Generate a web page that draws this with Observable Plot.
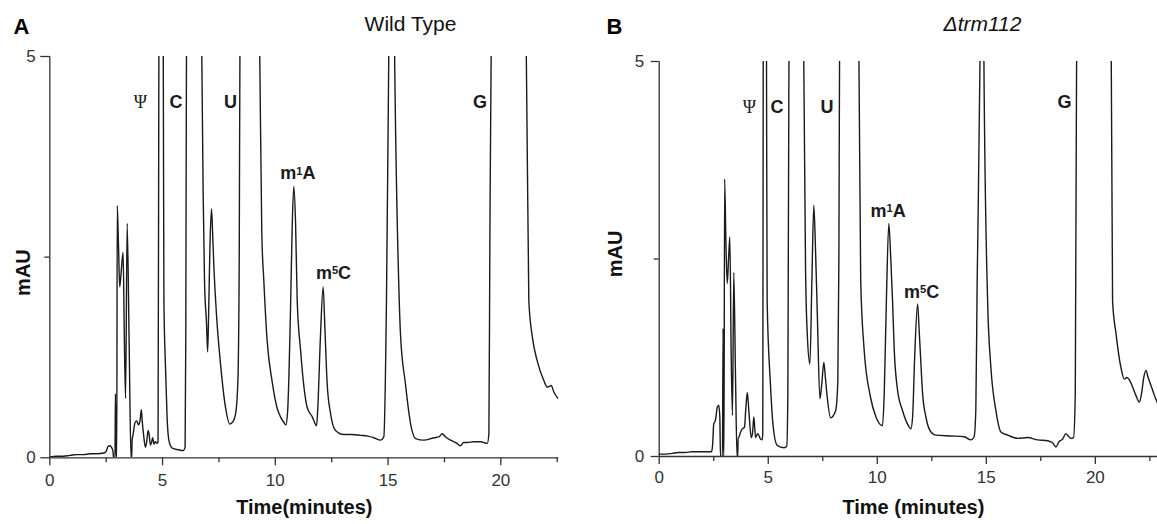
<!DOCTYPE html>
<html>
<head>
<meta charset="utf-8">
<script src="https://cdn.jsdelivr.net/npm/d3@7"></script>
<script src="https://cdn.jsdelivr.net/npm/@observablehq/plot@0.6"></script>
<style>
  html, body { margin: 0; padding: 0; background: #fff; }
  #chart { position: relative; width: 1157px; height: 524px; overflow: hidden; }
  #chart svg { position: absolute; top: 0; }
</style>
</head>
<body>
<div id="chart"></div>
<script>
// ---- Data ----
const wildTypeTime = [0.00,0.3,0.6,0.9,1.2,1.5,1.8,2.1,2.4,2.5,2.58,2.66,2.74,2.8,2.83,2.89,2.91,2.94,2.97,2.99,3.05,3.10,3.16,3.25,3.30,3.36,3.43,3.52,3.60,3.63,3.65,3.70,3.78,3.86,3.93,4.00,4.06,4.10,4.15,4.24,4.30,4.36,4.40,4.46,4.52,4.56,4.62,4.68,4.76,4.80,4.84,4.93,5.03,5.06,5.13,5.20,5.28,5.43,5.70,5.91,6.00,6.03,6.06,6.40,6.74,6.80,6.86,6.95,7.00,7.05,7.10,7.17,7.22,7.27,7.39,7.57,7.79,7.98,8.12,8.24,8.34,8.40,8.43,8.87,9.31,9.40,9.49,9.64,9.86,10.08,10.23,10.38,10.47,10.55,10.67,10.75,10.82,10.90,10.97,11.12,11.27,11.41,11.64,11.83,11.88,12.00,12.12,12.20,12.30,12.45,12.67,13.04,13.40,13.78,14.10,14.37,14.67,14.81,14.93,15.03,15.16,15.29,15.48,15.55,15.77,16.00,16.22,16.59,17.03,17.25,17.40,17.55,17.77,18.00,18.21,18.35,18.51,18.80,19.10,19.40,19.47,19.51,19.57,20.35,21.13,21.24,21.40,21.61,21.91,22.06,22.15,22.23,22.35,22.53];
const wildTypeAbs  = [0.01,0.02,0.02,0.03,0.04,0.04,0.05,0.05,0.06,0.08,0.14,0.15,0.13,0.08,0.00,0.00,0.80,0.00,0.00,3.14,2.60,2.13,2.30,2.56,1.60,0.74,2.92,1.40,0.00,0.00,0.22,0.30,0.44,0.46,0.41,0.46,0.60,0.45,0.31,0.13,0.21,0.34,0.30,0.16,0.20,0.25,0.17,0.20,0.18,0.20,5.5,9,5.2,1.96,1.13,0.51,0.22,0.12,0.10,0.09,0.13,1.5,5.0,9,5.0,3.3,2.21,1.67,1.32,1.9,2.62,3.10,2.8,2.42,1.79,1.17,0.63,0.42,0.45,0.55,0.96,2.5,5.0,9,5.0,2.8,2.21,1.45,0.95,0.62,0.51,0.44,0.41,0.6,1.8,2.9,3.38,2.9,1.96,1.34,0.88,0.63,0.51,0.40,0.6,1.5,2.13,1.6,0.92,0.55,0.34,0.29,0.29,0.28,0.27,0.25,0.22,0.26,2.0,5.0,9,5.0,2.1,1.54,0.92,0.42,0.24,0.22,0.25,0.26,0.30,0.26,0.22,0.19,0.15,0.19,0.19,0.20,0.20,0.18,0.3,2.5,5.0,9,5.0,1.96,1.5,1.21,0.96,0.88,0.89,0.90,0.82,0.74];

const trm112Time = [0.00,0.3,0.6,0.9,1.2,1.5,1.8,2.1,2.40,2.45,2.50,2.58,2.66,2.73,2.78,2.81,2.90,2.93,2.95,2.97,3.00,3.06,3.12,3.18,3.24,3.30,3.36,3.42,3.50,3.57,3.60,3.62,3.65,3.72,3.81,3.91,3.97,4.04,4.11,4.22,4.28,4.34,4.42,4.52,4.65,4.72,4.75,4.77,4.85,4.92,4.95,5.10,5.23,5.41,5.72,5.85,5.90,5.95,6.29,6.63,6.71,6.79,6.91,7.00,7.09,7.17,7.25,7.37,7.45,7.55,7.62,7.71,7.86,8.09,8.19,8.24,8.27,8.72,9.16,9.24,9.39,9.69,9.94,10.24,10.32,10.42,10.53,10.62,10.70,10.78,10.93,11.16,11.39,11.54,11.62,11.72,11.85,11.92,11.97,12.08,12.23,12.46,12.69,13.38,13.99,14.29,14.44,14.52,14.58,14.71,14.80,14.89,15.06,15.21,15.44,15.67,15.98,16.44,16.90,17.35,17.81,18.05,18.19,18.34,18.50,18.65,18.75,18.88,19.00,19.08,19.14,19.94,20.73,20.79,20.95,21.17,21.33,21.45,21.56,21.71,21.85,22.02,22.12,22.22,22.32,22.42,22.55,22.70,22.86];
const trm112Abs  = [0.03,0.03,0.04,0.05,0.05,0.06,0.06,0.06,0.06,0.15,0.41,0.46,0.62,0.65,0.50,0.00,0.00,1.62,0.00,0.00,3.51,2.70,2.19,2.50,2.78,1.30,0.52,2.33,1.00,0.00,0.00,0.24,0.24,0.30,0.35,0.37,0.60,0.81,0.58,0.24,0.30,0.50,0.24,0.29,0.22,0.21,0.30,5.0,9,5.0,1.97,0.92,0.37,0.14,0.11,0.13,0.8,5.0,9,5.0,2.4,1.55,1.17,2.2,3.18,2.6,1.81,0.73,0.9,1.19,1.0,0.74,0.49,0.58,0.94,2.5,5.0,9,5.0,2.23,1.38,0.75,0.50,0.39,0.8,2.0,2.95,2.5,1.97,1.34,0.84,0.58,0.41,0.35,0.5,1.3,1.93,1.6,1.34,0.79,0.50,0.31,0.27,0.26,0.25,0.21,0.25,0.6,2.2,5.0,9,5.0,1.97,1.13,0.58,0.31,0.27,0.23,0.24,0.21,0.20,0.17,0.12,0.19,0.22,0.29,0.26,0.23,0.24,0.8,5.0,9,5.0,1.97,1.55,1.13,0.98,1.0,0.97,0.88,0.78,0.69,0.8,1.0,1.09,1.0,0.90,0.78,0.67];

const peakNames = ["Ψ", "C", "U", "m¹A", "m⁵C", "G"];
const wildTypeLabelTime = [4.02, 5.60, 8.01, 11.00, 12.58, 19.08];
const wildTypeLabelAbs  = [4.36, 4.36, 4.36, 3.47, 2.23, 4.36];
const trm112LabelTime   = [4.14, 5.40, 7.70, 10.50, 12.03, 18.59];
const trm112LabelAbs    = [4.35, 4.35, 4.35, 3.03, 2.01, 4.41];

const xTicks = [0, 5, 10, 15, 20];
const xMinorTicks = [2.5, 7.5, 12.5, 17.5, 22.5];
const yTicks = [0, 5];
const yMinorTicks = [2.5];

const panelLetters = ["A", "B"];
const panelTitles = ["Wild Type", "Δtrm112"];
const xTitles = ["Time(minutes)", "Time (minutes)"];
const yTitle = "mAU";

// ---- Drawing ----
const ink = "#1a1a1a";
const axisInk = "#333";
const fontFamily = "'Liberation Sans', Arial, Helvetica, sans-serif";

function panel(cfg) {
  const series = cfg.time.map((t, i) => ({t, v: cfg.abs[i]}));
  const labels = peakNames.map((name, i) => ({name, t: cfg.labelTime[i], v: cfg.labelAbs[i]}));
  return Plot.plot({
    width: cfg.width,
    height: 524,
    marginLeft: cfg.ml, marginRight: cfg.mr, marginTop: cfg.mt, marginBottom: cfg.mb,
    x: {domain: [0, cfg.xMax]},
    y: {domain: [0, 5]},
    style: {fontFamily, fontSize: "17px", color: axisInk, background: "transparent", overflow: "visible"},
    marks: [
      Plot.ruleY([0], {stroke: axisInk, strokeWidth: 1.3}),
      Plot.ruleX([0], {stroke: axisInk, strokeWidth: 1.3}),
      Plot.axisX(xTicks, {tickSize: 8, tickPadding: cfg.xPad, label: null, strokeWidth: 1.3, fontSize: 17, tickFormat: d => String(d)}),
      Plot.axisX(xMinorTicks, {tickSize: 5, text: null, label: null, strokeWidth: 1.3}),
      Plot.axisY(yTicks, {tickSize: cfg.yTick, tickPadding: cfg.yPad, label: null, strokeWidth: 1.3, fontSize: 17, tickFormat: d => String(d)}),
      Plot.axisY(yMinorTicks, {tickSize: 5, text: null, label: null, strokeWidth: 1.3}),
      Plot.lineY(series, {x: "t", y: "v", stroke: ink, strokeWidth: 1.4, clip: true, curve: "monotone-x"}),
      Plot.text(labels, {filter: d => d.name !== "Ψ", x: "t", y: "v", text: "name", lineAnchor: "bottom",
        fontWeight: "bold", fontSize: 18, fill: ink}),
      Plot.text(labels, {filter: d => d.name === "Ψ", x: "t", y: "v", text: "name", lineAnchor: "bottom",
        fontFamily: "'Liberation Serif', 'Times New Roman', serif", fontSize: 18, fill: ink}),
      Plot.text([cfg.letter], {frameAnchor: "top-left", dx: cfg.letterDx, dy: cfg.letterDy, lineAnchor: "bottom",
        textAnchor: "start", fontWeight: "bold", fontSize: 22, fill: "#000"}),
      Plot.text([cfg.title], {frameAnchor: "top-left", dx: cfg.titleDx, dy: cfg.titleDy, lineAnchor: "bottom",
        textAnchor: "middle", fontSize: 21, fontStyle: cfg.titleStyle, fill: "#111"}),
      Plot.text([yTitle], {frameAnchor: "left", dx: cfg.yTitleDx, dy: cfg.yTitleDy, rotate: -90, lineAnchor: "middle",
        textAnchor: "middle", fontWeight: "bold", fontSize: 20, fill: "#111"}),
      Plot.text([cfg.xTitle], {frameAnchor: "bottom", dx: cfg.xTitleDx, dy: cfg.xTitleDy, lineAnchor: "bottom",
        textAnchor: "middle", fontWeight: "bold", fontSize: 20, fill: "#111"})
    ]
  });
}

// Render the superscript digits of the peak names as raised bold tspans (text stays text).
const supMap = {"¹": "1", "⁵": "5"};
function raiseSuperscripts(svg) {
  d3.select(svg).selectAll("text").each(function () {
    const el = d3.select(this);
    const s = el.text();
    const m = /^(.*?)([¹⁵])(.*)$/.exec(s);
    if (!m || el.selectAll("tspan").size() > 0) return;
    el.text(null);
    el.append("tspan").text(m[1]);
    el.append("tspan").attr("dy", "-0.42em").attr("font-size", "0.62em").text(supMap[m[2]]);
    el.append("tspan").attr("dy", "0.26em").text(m[3]);
  });
}

const left = panel({
  time: wildTypeTime, abs: wildTypeAbs, labelTime: wildTypeLabelTime, labelAbs: wildTypeLabelAbs,
  width: 580, ml: 49.3, mr: 21.7, mt: 56, mb: 66.7, xMax: 22.57,
  xPad: 8, yTick: 9, yPad: 5,
  letter: panelLetters[0], letterDx: -36.3, letterDy: -23,
  title: panelTitles[0], titleDx: 360.7, titleDy: -26, titleStyle: "normal",
  yTitleDx: -25.8, yTitleDy: 15.4,
  xTitle: xTitles[0], xTitleDx: 0, xTitleDy: 56
});
left.style.left = "0px";

const right = panel({
  time: trm112Time, abs: trm112Abs, labelTime: trm112LabelTime, labelAbs: trm112LabelAbs,
  width: 577, ml: 78.7, mr: 0, mt: 61, mb: 68, xMax: 22.85,
  xPad: 6, yTick: 8, yPad: 7,
  letter: panelLetters[1], letterDx: -52.7, letterDy: -28,
  title: panelTitles[1], titleDx: 323.3, titleDy: -31, titleStyle: "italic",
  yTitleDx: -43.7, yTitleDy: -5,
  xTitle: xTitles[1], xTitleDx: 5, xTitleDy: 57
});
right.style.left = "580px";

raiseSuperscripts(left);
raiseSuperscripts(right);

const chart = document.getElementById("chart");
chart.appendChild(left);
chart.appendChild(right);
</script>
</body>
</html>
